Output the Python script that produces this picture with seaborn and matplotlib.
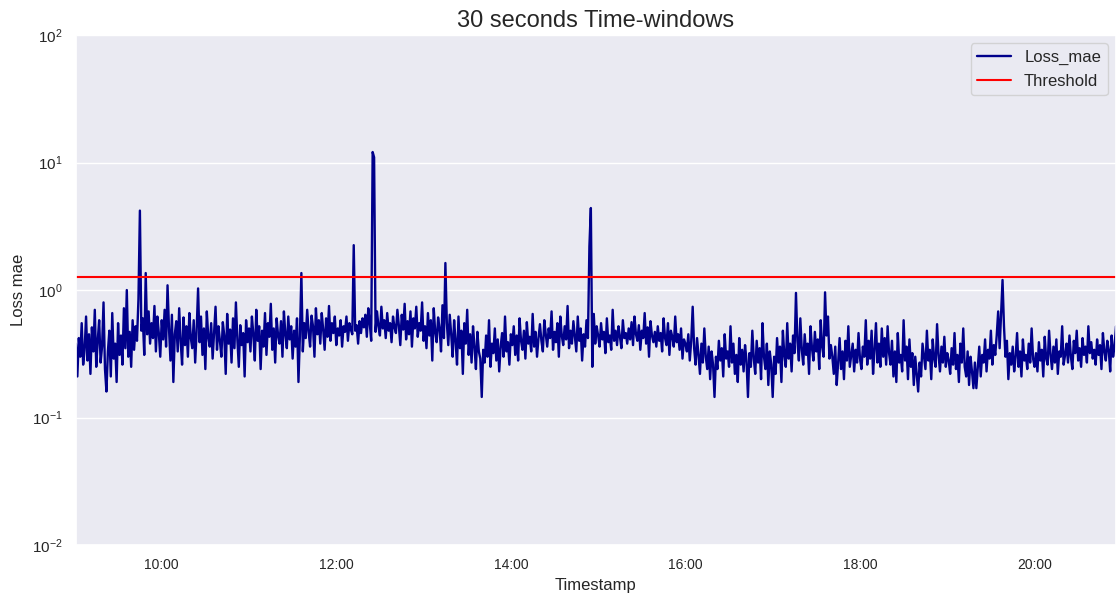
import pandas as pd
import matplotlib
matplotlib.use('Agg')
import matplotlib.pyplot as plt
import matplotlib.dates as mdates
import seaborn as sns

sns.set_theme(style='darkgrid')
plt.rcParams['font.family'] = ['Liberation Sans', 'DejaVu Sans']

# one value per minute (rows of 20 minutes)
start_time = '2021-01-01 09:01'
loss_mae = [
    0.38, 0.21, 0.42, 0.30, 0.55, 0.26, 0.34, 0.62, 0.28, 0.45, 0.22, 0.51, 0.33, 0.70, 0.25, 0.40, 0.58, 0.27, 0.36, 0.80,
    0.24, 0.16, 0.33, 0.48, 0.21, 0.66, 0.29, 0.38, 0.19, 0.55, 0.31, 0.44, 0.26, 0.72, 0.35, 1.00, 0.30, 0.47, 0.25, 0.58,
    0.34, 0.52, 0.40, 0.85, 4.20, 0.48, 0.60, 0.31, 1.36, 0.45, 0.68, 0.38, 0.55, 0.42, 0.75, 0.33, 0.62, 0.46, 0.30, 0.58,
    0.41, 0.70, 0.36, 1.09, 0.50, 0.28, 0.64, 0.19, 0.45, 0.57, 0.33, 0.72, 0.40, 0.26, 0.61, 0.37, 0.52, 0.30, 0.66, 0.42,
    0.35, 0.58, 0.27, 0.48, 1.03, 0.39, 0.62, 0.31, 0.50, 0.24, 0.68, 0.43, 0.36, 0.55, 0.29, 0.47, 0.74, 0.34, 0.52, 0.40,
    0.30, 0.56, 0.44, 0.22, 0.65, 0.38, 0.49, 0.27, 0.60, 0.35, 0.80, 0.41, 0.25, 0.53, 0.37, 0.46, 0.21, 0.58, 0.39, 0.50,
    0.33, 0.62, 0.45, 0.28, 0.70, 0.40, 0.52, 0.24, 0.48, 0.36, 0.66, 0.31, 0.55, 0.43, 0.78, 0.34, 0.50, 0.27, 0.60, 0.44,
    0.38, 0.57, 0.30, 0.68, 0.45, 0.35, 0.62, 0.41, 0.52, 0.29, 0.48, 0.36, 0.60, 0.19, 0.44, 1.36, 0.33, 0.55, 0.42, 0.70,
    0.47, 0.36, 0.63, 0.52, 0.30, 0.72, 0.45, 0.58, 0.38, 0.66, 0.49, 0.34, 0.60, 0.43, 0.75, 0.40, 0.55, 0.46, 0.62, 0.37,
    0.50, 0.44, 0.58, 0.36, 0.52, 0.47, 0.62, 0.40, 0.55, 0.49, 0.45, 2.25, 0.48, 0.53, 0.38, 0.57, 0.46, 0.60, 0.51, 0.64,
    0.43, 0.72, 0.55, 0.40, 12.1, 11.0, 0.47, 0.68, 0.52, 0.44, 0.74, 0.50, 0.58, 0.42, 0.66, 0.48, 0.55, 0.39, 0.62, 0.51,
    0.46, 0.70, 0.53, 0.37, 0.64, 0.49, 0.78, 0.41, 0.57, 0.45, 0.68, 0.36, 0.60, 0.50, 0.74, 0.43, 0.55, 0.48, 0.80, 0.40,
    0.52, 0.35, 0.66, 0.44, 0.58, 0.28, 0.72, 0.47, 0.39, 0.61, 0.50, 0.33, 0.76, 0.42, 1.63, 0.55, 0.37, 0.64, 0.45, 0.30,
    0.58, 0.40, 0.26, 0.62, 0.35, 0.48, 0.22, 0.55, 0.38, 0.70, 0.31, 0.45, 0.27, 0.52, 0.36, 0.24, 0.47, 0.33, 0.29, 0.145,
    0.34, 0.27, 0.44, 0.30, 0.58, 0.25, 0.38, 0.32, 0.50, 0.28, 0.41, 0.23, 0.36, 0.46, 0.30, 0.62, 0.33, 0.39, 0.26, 0.45,
    0.37, 0.52, 0.31, 0.44, 0.28, 0.60, 0.40, 0.34, 0.48, 0.29, 0.56, 0.38, 0.43, 0.33, 0.65, 0.36, 0.47, 0.30, 0.42, 0.54,
    0.40, 0.33, 0.58, 0.45, 0.36, 0.50, 0.42, 0.68, 0.34, 0.47, 0.39, 0.55, 0.30, 0.62, 0.44, 0.37, 0.52, 0.41, 0.75, 0.35,
    0.48, 0.38, 0.57, 0.43, 0.33, 0.62, 0.40, 0.50, 0.28, 0.45, 0.36, 0.58, 0.42, 2.20, 4.40, 0.25, 0.65, 0.38, 0.52, 0.44,
    0.36, 0.55, 0.41, 0.47, 0.32, 0.60, 0.39, 0.44, 0.34, 0.70, 0.40, 0.48, 0.37, 0.52, 0.43, 0.35, 0.58, 0.42, 0.46, 0.38,
    0.50, 0.41, 0.56, 0.37, 0.62, 0.45, 0.40, 0.53, 0.34, 0.48, 0.42, 0.66, 0.38, 0.51, 0.30, 0.57, 0.44, 0.39, 0.47, 0.36,
    0.52, 0.40, 0.46, 0.33, 0.60, 0.42, 0.37, 0.55, 0.31, 0.48, 0.43, 0.36, 0.62, 0.39, 0.45, 0.34, 0.50, 0.29, 0.41, 0.38,
    0.33, 0.45, 0.28, 0.40, 0.74, 0.35, 0.26, 0.42, 0.31, 0.22, 0.38, 0.27, 0.50, 0.30, 0.24, 0.36, 0.20, 0.33, 0.26, 0.145,
    0.30, 0.24, 0.40, 0.28, 0.35, 0.21, 0.45, 0.29, 0.33, 0.25, 0.52, 0.27, 0.38, 0.22, 0.31, 0.19, 0.42, 0.26, 0.34, 0.23,
    0.37, 0.28, 0.145, 0.32, 0.25, 0.48, 0.29, 0.22, 0.40, 0.27, 0.35, 0.20, 0.55, 0.30, 0.24, 0.38, 0.18, 0.33, 0.26, 0.145,
    0.30, 0.22, 0.42, 0.27, 0.36, 0.19, 0.48, 0.31, 0.25, 0.55, 0.29, 0.38, 0.23, 0.44, 0.32, 0.95, 0.40, 0.28, 0.60, 0.34,
    0.26, 0.45, 0.31, 0.38, 0.22, 0.52, 0.35, 0.28, 0.47, 0.33, 0.41, 0.24, 0.58, 0.36, 0.30, 0.96, 0.44, 0.62, 0.29, 0.37,
    0.30, 0.22, 0.36, 0.18, 0.27, 0.42, 0.24, 0.33, 0.20, 0.40, 0.28, 0.52, 0.25, 0.31, 0.38, 0.23, 0.34, 0.27, 0.46, 0.29,
    0.24, 0.36, 0.30, 0.58, 0.26, 0.40, 0.29, 0.48, 0.22, 0.34, 0.55, 0.27, 0.38, 0.25, 0.50, 0.30, 0.42, 0.26, 0.52, 0.32,
    0.26, 0.40, 0.21, 0.33, 0.19, 0.46, 0.27, 0.31, 0.23, 0.58, 0.28, 0.36, 0.20, 0.41, 0.25, 0.32, 0.18, 0.30, 0.22, 0.16,
    0.27, 0.21, 0.38, 0.30, 0.24, 0.48, 0.28, 0.34, 0.20, 0.41, 0.29, 0.25, 0.54, 0.31, 0.23, 0.36, 0.27, 0.43, 0.25, 0.32,
    0.28, 0.22, 0.35, 0.26, 0.46, 0.24, 0.31, 0.19, 0.38, 0.27, 0.50, 0.25, 0.21, 0.33, 0.18, 0.30, 0.23, 0.17, 0.27, 0.17,
    0.25, 0.36, 0.21, 0.31, 0.27, 0.41, 0.23, 0.34, 0.29, 0.48, 0.26, 0.37, 0.31, 0.44, 0.68, 0.35, 0.66, 1.20, 0.52, 0.30,
    0.40, 0.20, 0.32, 0.26, 0.36, 0.23, 0.30, 0.46, 0.25, 0.33, 0.21, 0.41, 0.28, 0.31, 0.24, 0.38, 0.27, 0.50, 0.29, 0.25,
    0.32, 0.23, 0.39, 0.28, 0.34, 0.21, 0.43, 0.29, 0.26, 0.48, 0.31, 0.24, 0.36, 0.27, 0.41, 0.22, 0.33, 0.30, 0.52, 0.26,
    0.31, 0.38, 0.27, 0.44, 0.30, 0.24, 0.40, 0.32, 0.48, 0.28, 0.35, 0.25, 0.42, 0.31, 0.36, 0.27, 0.52, 0.32, 0.39, 0.29,
    0.34, 0.26, 0.41, 0.31, 0.37, 0.24, 0.46, 0.33, 0.28, 0.40, 0.34, 0.23, 0.44, 0.30, 0.36, 0.52,
]
threshold = 1.27

df = pd.DataFrame({
    'Timestamp': pd.date_range(start_time, periods=len(loss_mae), freq='1min'),
    'Loss_mae': loss_mae,
})

fig, ax = plt.subplots(figsize=(11.16, 5.95), dpi=100)
fig.subplots_adjust(left=0.068, right=1.0, top=0.941, bottom=0.084)

sns.lineplot(data=df, x='Timestamp', y='Loss_mae', color='darkblue', lw=1.7,
             label='Loss_mae', ax=ax)
ax.axhline(threshold, color='red', lw=1.5, label='Threshold')

ax.set_yscale('log')
ax.set_ylim(1e-2, 1e2)
ax.set_xlim(df['Timestamp'].iloc[0], df['Timestamp'].iloc[-1])
ax.xaxis.set_major_locator(mdates.HourLocator(byhour=range(10, 21, 2)))
ax.xaxis.set_major_formatter(mdates.DateFormatter('%H:%M'))
ax.grid(False, axis='x')
ax.tick_params(labelsize=10)
ax.tick_params(axis='y', labelsize=11)

ax.set_title('30 seconds Time-windows', fontsize=17)
ax.set_xlabel('Timestamp', fontsize=12)
ax.set_ylabel('Loss mae', fontsize=12)
ax.legend(loc='upper right', fontsize=12)

plt.savefig('out.png')
plt.close()
